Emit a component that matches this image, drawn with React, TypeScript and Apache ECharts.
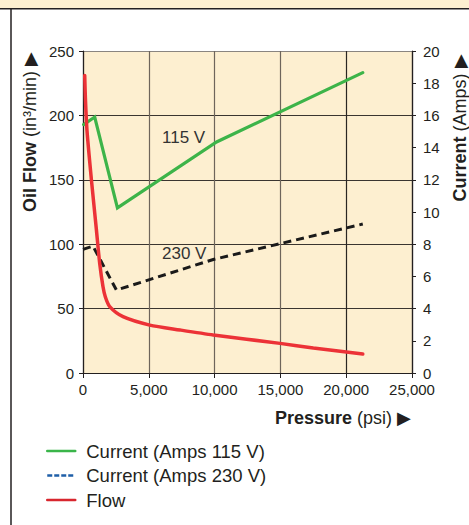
import React, { useEffect, useRef } from "react";
import * as echarts from "echarts";

// Pressure (psi) vs values
const current115: [number, number][] = [
  [50, 15.43], [890, 15.9], [2615, 10.26], [10150, 14.35], [21260, 18.66],
];
const current230: [number, number][] = [
  [0, 7.68], [760, 7.88], [2540, 5.15], [9900, 7.05], [21260, 9.25],
];
const flow: [number, number][] = [
  [130, 231], [180, 214], [305, 188], [640, 150], [1020, 111], [1270, 85],
  [1520, 67], [1700, 59], [2030, 51.5], [3040, 43.7], [5076, 37.2],
  [7370, 33.4], [9900, 29.5], [14970, 23], [17500, 19.4], [21260, 14.7],
];
const seriesNames = ["Current (Amps 115 V)", "Current (Amps 230 V)", "Flow"];
const flowTicks = { min: 0, max: 250, interval: 50 };
const currentTicks = { min: 0, max: 20, interval: 2 };
const pressureTicks = { min: 0, max: 25000, interval: 5000 };

const SANS = "'Liberation Sans', Arial, sans-serif";

export default function App() {
  const ref = useRef<HTMLDivElement>(null);
  useEffect(() => {
    if (!ref.current) return;
    const chart = echarts.init(ref.current, undefined, { renderer: "svg" });
    const axisLabel = { fontFamily: SANS, fontSize: 15, color: "#231f20" };
    const hiddenSymbol = { color: "rgba(0,0,0,0)", borderWidth: 0, opacity: 0 };
    const G = "#6e655b";
    const D = "#2a2622";
    chart.setOption({
      animation: false,
      backgroundColor: "#ffffff",
      grid: { left: 83, top: 51, width: 329, height: 322, backgroundColor: "#FDEFD0", show: true, borderWidth: 0 },
      xAxis: {
        type: "value",
        ...pressureTicks,
        axisLine: { show: true, lineStyle: { color: "#231f20", width: 1.2 } },
        axisTick: { show: true, length: 5, lineStyle: { color: "#231f20" } },
        axisLabel: { ...axisLabel, margin: 9, formatter: (v: number) => v.toLocaleString("en-US") },
        splitLine: { show: true, lineStyle: { color: [G, G, G, G, D, D], width: 1.2 } },
      },
      yAxis: [
        {
          type: "value",
          ...flowTicks,
          position: "left",
          axisLine: { show: true, lineStyle: { color: "#231f20", width: 1.2 } },
          axisTick: { show: true, length: 4, lineStyle: { color: "#231f20" } },
          axisLabel: { ...axisLabel, margin: 9 },
          splitLine: { show: true, lineStyle: { color: [D, "#3a3530", "#3a3530", "#3a3530", "#3a3530", "#8a8580"], width: 1.2 } },
        },
        {
          type: "value",
          ...currentTicks,
          position: "right",
          axisLine: { show: true, lineStyle: { color: "#231f20", width: 1.2 } },
          axisTick: { show: true, length: 4, lineStyle: { color: "#231f20" } },
          axisLabel: { ...axisLabel, margin: 11 },
          splitLine: { show: false },
        },
      ],
      legend: {
        orient: "vertical",
        left: 41,
        top: 434,
        itemWidth: 28,
        itemHeight: 10,
        itemGap: 0.5,
        textStyle: { fontSize: 18.5, color: "#231f20", fontFamily: SANS, lineHeight: 24, padding: [0, 0, 0, 6] },
        data: [
          { name: seriesNames[0], lineStyle: { color: "#3ab54a", width: 2.5, type: "solid" }, itemStyle: hiddenSymbol },
          { name: seriesNames[1], lineStyle: { color: "#1f5fa8", width: 2.5, type: [5, 2] }, itemStyle: hiddenSymbol },
          { name: seriesNames[2], lineStyle: { color: "#d8262e", width: 2.5, type: "solid" }, itemStyle: hiddenSymbol },
        ],
      },
      series: [
        {
          name: seriesNames[0], type: "line", yAxisIndex: 1, data: current115, symbol: "none",
          lineStyle: { color: "#3db449", width: 3.2, cap: "round", join: "miter" }, itemStyle: { color: "#3db449" },
        },
        {
          name: seriesNames[1], type: "line", yAxisIndex: 1, data: current230, symbol: "none",
          lineStyle: { color: "#1a1a1a", width: 3, type: [8, 5] }, itemStyle: { color: "#1a1a1a" },
        },
        {
          name: seriesNames[2], type: "line", yAxisIndex: 0, data: flow, symbol: "none", smooth: 0.25,
          lineStyle: { color: "#ec3237", width: 3.5, cap: "round" }, itemStyle: { color: "#ec3237" },
        },
      ],
      graphic: [
        { type: "rect", shape: { x: 0, y: 0, width: 469, height: 8.5 }, style: { fill: "#FDEFD0" }, silent: true },
        { type: "line", shape: { x1: 0, y1: 8.7, x2: 469, y2: 8.7 }, style: { stroke: "#231f20", lineWidth: 1.5 } },
        { type: "line", shape: { x1: 11, y1: 8.7, x2: 11, y2: 525 }, style: { stroke: "#231f20", lineWidth: 1.5 } },
        {
          type: "text", x: 30, y: 132, rotation: Math.PI / 2,
          style: {
            text: "{b|Oil Flow} (in³/min) ▶", fontSize: 18, fontFamily: SANS, fill: "#231f20",
            align: "center", verticalAlign: "middle",
            rich: { b: { fontWeight: "bold", fontSize: 18, fontFamily: SANS, fill: "#231f20" } },
          },
        },
        {
          type: "text", x: 460, y: 128, rotation: Math.PI / 2,
          style: {
            text: "{b|Current} (Amps) ▶", fontSize: 18, fontFamily: SANS, fill: "#231f20",
            align: "center", verticalAlign: "middle",
            rich: { b: { fontWeight: "bold", fontSize: 18, fontFamily: SANS, fill: "#231f20" } },
          },
        },
        {
          type: "text", x: 411, y: 418,
          style: {
            text: "{b|Pressure} (psi) ▶", fontSize: 18, fontFamily: SANS, fill: "#231f20",
            align: "right", verticalAlign: "middle",
            rich: { b: { fontWeight: "bold", fontSize: 18, fontFamily: SANS, fill: "#231f20" } },
          },
        },
        {
          type: "text", x: 162, y: 137,
          style: { text: "115 V", fontSize: 17, fontFamily: SANS, fill: "#333333", verticalAlign: "middle" },
        },
        {
          type: "text", x: 162, y: 253,
          style: { text: "230 V", fontSize: 17, fontFamily: SANS, fill: "#333333", verticalAlign: "middle" },
        },
      ],
    });
    return () => chart.dispose();
  }, []);
  return <div ref={ref} style={{ position: "fixed", left: 0, top: 0, width: 469, height: 525 }} />;
}
